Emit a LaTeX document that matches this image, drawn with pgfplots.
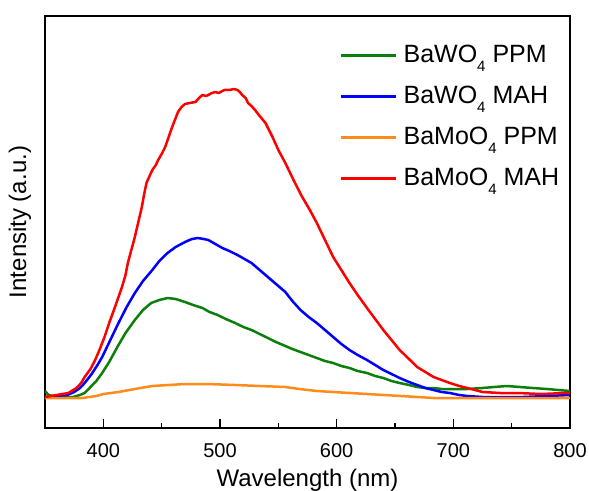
\documentclass[border=0pt]{standalone}
\usepackage{pgfplots}
\pgfplotsset{compat=1.18}
\usepackage{fontspec}
\setmainfont{Liberation Sans}
\definecolor{cgreen}{RGB}{10,128,10}
\definecolor{cblue}{RGB}{0,0,255}
\definecolor{corange}{RGB}{255,140,26}
\definecolor{cred}{RGB}{255,0,0}
\newcommand\sub[1]{\raisebox{-9pt}{\fontsize{15}{15}\selectfont #1}}
\begin{document}
\begin{tikzpicture}
\useasboundingbox (-45pt,-62pt) rectangle (544pt,428pt);
\begin{axis}[
  at={(0,0)}, anchor=south west,
  scale only axis, width=525pt, height=412pt,
  xmin=350, xmax=800, ymin=0, ymax=412,
  xtick={400,500,600,700,800}, minor xtick={450,550,650,750},
  ytick=\empty,
  xtick pos=bottom, tick align=inside,
  major tick length=9pt, minor tick length=5pt,
  every tick/.style={black, line width=1.2pt},
  axis line style={line width=1.2pt},
  /pgf/number format/assume math mode=true,
  xticklabel style={font=\fontsize{20}{24}\selectfont, anchor=base, yshift=-29pt},
  xlabel={Wavelength (nm)},
  ylabel={Intensity (a.u.)},
  xlabel style={font=\fontsize{24}{28}\selectfont, at={(axis description cs:0.5,-0.141)}, anchor=base},
  ylabel style={font=\fontsize{24}{28}\selectfont, at={(axis description cs:-0.036,0.5)}, anchor=base, rotate=0},
  legend cell align=left,
  legend style={draw=none, fill=none, at={(axis description cs:0.556,0.937)}, anchor=north west,
    font=\fontsize{25}{29}\selectfont, row sep=0pt,
    nodes={inner xsep=6pt, inner ysep=0pt, text height=18pt, text depth=23pt}},
  legend image code/.code={\draw[#1] (0pt,9pt) -- (55pt,9pt);},
  every axis plot/.append style={line width=2.5pt, line join=round},
]
\addplot[cgreen] coordinates {
(350,37) (353,33) (360,31) (374,31) (380,33) (384,35) (389,41) (394,47) (399,55) (405,66)
(412,81) (419,95) (427,108) (434,118) (441,125) (448,128) (455,130) (462,129) (470,126)
(477,123) (485,120) (491,116) (498,113) (505,109) (513,105) (520,101) (527,98) (534,94)
(541,90) (548,86) (556,82) (562,79) (569,76) (576,73) (583,70) (590,67) (597,65) (604,62)
(611,60) (618,57) (626,55) (633,52) (640,50) (647,47) (654,45) (662,43) (669,41) (676,40)
(683,40) (690,39) (697,39) (712,39) (725,40) (735,41) (746,42) (757,41) (768,40) (780,39)
(790,38) (800,37)
};
\addlegendentry{BaWO\sub{4} PPM}
\addplot[cblue] coordinates {
(350,31) (360,32) (369,33) (375,36) (380,40) (384,45) (390,54) (395,63) (399,71) (406,88)
(413,105) (420,121) (427,135) (434,147) (442,158) (448,167) (455,175) (462,181) (470,186)
(476,189) (481,190) (486,189) (490,188) (496,184) (502,180) (508,177) (515,173) (521,169)
(527,165) (534,158) (541,151) (548,144) (556,136) (562,127) (569,118) (576,111) (583,105)
(590,98) (597,91) (604,84) (611,78) (618,73) (626,68) (633,63) (640,58) (647,54) (654,50)
(662,46) (669,43) (676,40) (683,38) (690,36) (697,35) (705,33) (712,32) (725,31) (740,31)
(760,31) (780,32) (800,33)
};
\addlegendentry{BaWO\sub{4} MAH}
\addplot[corange] coordinates {
(350,30) (360,30) (374,30) (382,30) (388,31) (394,32) (400,34) (413,36) (427,39) (442,42) (456,43)
(470,44) (489,44) (513,43) (534,42) (556,41) (568,39) (583,37) (597,36) (611,35) (626,34)
(640,33) (655,32) (669,31) (683,30) (697,30) (720,30) (760,30) (800,30)
};
\addlegendentry{BaMoO\sub{4} PPM}
\addplot[cred] coordinates {
(350,31) (360,33) (370,35) (377,40) (381,45) (384,51) (389,59) (393,68) (397,79) (401,91)
(405,105) (410,121) (413,131) (416,141) (419,153) (421,165) (424,178) (427,191) (430,206)
(433,221) (435,234) (437,245) (440,253) (442,258) (445,263) (447,268) (450,274) (453,281)
(456,291) (459,301) (462,310) (464,316) (467,321) (470,324) (474,325) (479,326) (482,330)
(485,333) (488,332) (490,333) (493,335) (496,336) (499,335) (502,337) (504,338) (508,338)
(512,339) (515,338) (517,336) (519,333) (522,330) (524,325) (527,322) (530,318) (534,312)
(539,305) (542,298) (545,291) (550,278) (556,265) (563,248) (570,232) (577,218) (583,205)
(590,188) (597,171) (604,158) (611,145) (618,133) (626,120) (633,109) (640,98) (647,88)
(654,78) (662,69) (669,61) (676,56) (683,51) (690,48) (697,45) (705,42) (712,40) (725,36)
(740,35) (755,35) (775,34) (797,35) (800,35)
};
\addlegendentry{BaMoO\sub{4} MAH}
\end{axis}
\end{tikzpicture}
\end{document}
